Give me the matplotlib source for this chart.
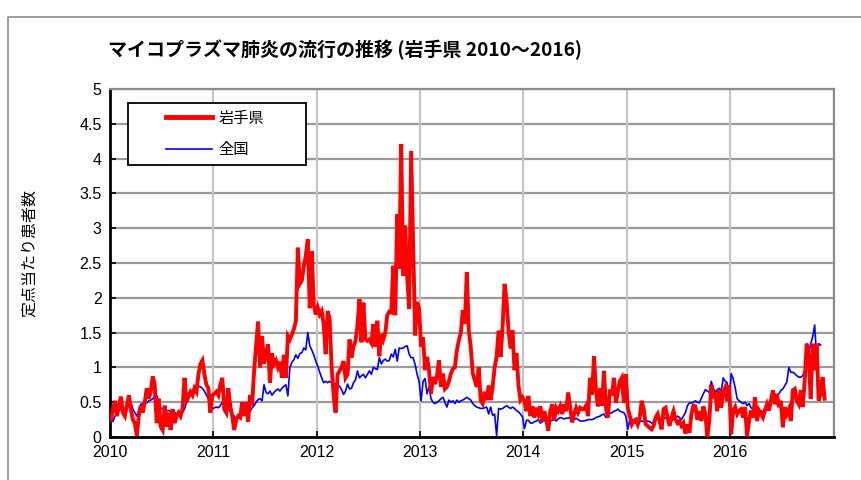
import matplotlib
matplotlib.use("Agg")
import matplotlib.pyplot as plt
import matplotlib.patches as patches
from matplotlib.lines import Line2D
import numpy as np

plt.rcParams['font.family'] = ['Noto Sans CJK JP', 'DejaVu Sans']

# weekly values per year (定点当たり患者数)
iwate = {
    2010: [0.25, 0.4, 0.52, 0.3, 0.45, 0.58, 0.35, 0.3, 0.45, 0.6, 0.4, 0.25, 0.2,
           0.02, 0.3, 0.45, 0.35, 0.5, 0.7, 0.55, 0.65, 0.87, 0.75, 0.2, 0.55, 0.15,
           0.1, 0.45, 0.15, 0.35, 0.1, 0.4, 0.2, 0.3, 0.35, 0.3, 0.4, 0.85, 0.5,
           0.6, 0.65, 0.6, 0.7, 0.65, 0.9, 1.05, 1.1, 0.9, 0.75, 0.7, 0.35, 0.6],
    2011: [0.62, 0.65, 0.6, 0.75, 0.85, 0.4, 0.35, 0.7, 0.45, 0.3, 0.1, 0.25, 0.3,
           0.28, 0.5, 0.3, 0.5, 0.22, 0.6, 0.45, 0.95, 1.3, 1.66, 1.0, 1.45, 1.05,
           1.2, 1.33, 0.78, 1.2, 1.05, 1.1, 1.0, 1.08, 0.85, 1.18, 0.85, 1.45, 1.4,
           1.47, 1.55, 1.66, 2.72, 2.2, 2.25, 2.45, 2.6, 2.84, 1.85, 2.67, 1.9, 1.76],
    2012: [1.86, 1.76, 1.81, 1.62, 1.19, 1.81, 1.7, 1.0, 0.6, 0.35, 0.9, 0.95, 1.0,
           1.09, 0.85, 0.9, 1.4, 1.14, 1.3, 1.38, 1.6, 1.98, 1.36, 1.93, 1.4, 1.38,
           1.4, 1.35, 1.62, 1.3, 1.67, 1.16, 1.48, 1.4, 1.5, 1.75, 1.8, 1.79, 2.46,
           1.75, 3.2, 2.42, 4.21, 2.32, 3.04, 2.3, 1.84, 4.11, 2.75, 1.46, 1.94, 1.84],
    2013: [1.3, 1.43, 0.96, 1.15, 0.96, 0.62, 0.86, 0.76, 0.88, 1.1, 0.72, 0.91, 0.69,
           0.72, 0.8, 0.91, 0.98, 1.0, 1.24, 1.39, 1.5, 1.82, 1.63, 2.37, 1.53, 1.29,
           0.91, 0.82, 0.72, 1.0, 0.53, 0.48, 0.65, 0.53, 0.74, 0.53, 0.72, 1.0, 1.15,
           1.53, 1.15, 1.58, 2.2, 1.96, 1.53, 1.27, 1.53, 0.96, 1.2, 0.74, 0.53, 0.57],
    2014: [0.52, 0.37, 0.59, 0.3, 0.44, 0.28, 0.42, 0.33, 0.44, 0.23, 0.37, 0.25, 0.09,
           0.37, 0.47, 0.25, 0.42, 0.37, 0.44, 0.33, 0.47, 0.37, 0.64, 0.42, 0.21, 0.33,
           0.42, 0.35, 0.42, 0.4, 0.4, 0.45, 0.3, 0.85, 0.61, 1.16, 0.66, 0.44, 0.7,
           0.45, 0.95, 0.42, 0.28, 0.68, 0.6, 0.85, 0.49, 0.65, 0.8, 0.85, 0.49, 0.9],
    2015: [0.42, 0.3, 0.18, 0.23, 0.25, 0.18, 0.28, 0.52, 0.4, 0.18, 0.16, 0.13, 0.11,
           0.16, 0.28, 0.33, 0.23, 0.11, 0.4, 0.42, 0.28, 0.16, 0.28, 0.37, 0.25, 0.2,
           0.23, 0.16, 0.2, 0.05, 0.18, 0.06, 0.33, 0.45, 0.44, 0.25, 0.37, 0.23, 0.44,
           0.33, 0.0, 0.23, 0.75, 0.56, 0.64, 0.37, 0.68, 0.42, 0.64, 0.71, 0.52, 0.74],
    2016: [0.04, 0.38, 0.43, 0.33, 0.38, 0.4, 0.28, 0.43, 0.01, 0.23, 0.38, 0.28, 0.57,
           0.23, 0.38, 0.33, 0.28, 0.38, 0.47, 0.38, 0.52, 0.67, 0.47, 0.62, 0.43, 0.52,
           0.14, 0.43, 0.33, 0.4, 0.23, 0.67, 0.69, 0.52, 0.47, 0.67, 0.43, 0.81, 1.34,
           1.15, 0.55, 1.34, 0.96, 1.34, 0.52, 0.62, 0.86, 0.55],
}

zenkoku = {
    2010: [0.33, 0.22, 0.3, 0.35, 0.38, 0.4, 0.42, 0.4, 0.42, 0.45, 0.5, 0.4, 0.35,
           0.3, 0.38, 0.47, 0.48, 0.5, 0.49, 0.52, 0.53, 0.55, 0.58, 0.6, 0.5, 0.42,
           0.4, 0.4, 0.38, 0.38, 0.37, 0.36, 0.35, 0.33, 0.34, 0.34, 0.36, 0.4, 0.5,
           0.55, 0.6, 0.65, 0.7, 0.68, 0.73, 0.72, 0.7, 0.66, 0.6, 0.55, 0.5, 0.4],
    2011: [0.42, 0.43, 0.42, 0.45, 0.5, 0.53, 0.4, 0.4, 0.37, 0.33, 0.3, 0.25, 0.3,
           0.32, 0.33, 0.35, 0.38, 0.4, 0.37, 0.42, 0.45, 0.5, 0.54, 0.55, 0.52, 0.75,
           0.64, 0.62, 0.66, 0.6, 0.64, 0.67, 0.69, 0.66, 0.7, 0.73, 0.75, 0.59, 1.0,
           1.07, 1.11, 1.18, 1.13, 1.2, 1.21, 1.28, 1.25, 1.5, 1.31, 1.25, 1.18, 1.09],
    2012: [1.02, 0.93, 0.85, 0.78, 0.8, 0.78, 0.8, 0.78, 0.77, 0.76, 0.74, 0.73, 0.68,
           0.61, 0.66, 0.76, 0.69, 0.7, 0.78, 0.82, 0.95, 0.85, 0.88, 0.9, 0.85, 0.9,
           0.95, 0.9, 1.0, 0.98, 0.97, 1.14, 1.05, 1.1, 1.12, 1.09, 1.1, 1.19, 1.15,
           1.26, 1.09, 1.28, 1.27, 1.28, 1.3, 1.31, 1.19, 1.14, 1.14, 1.04, 0.9, 0.8],
    2013: [0.52, 0.8, 0.84, 0.62, 0.72, 0.55, 0.5, 0.48, 0.5, 0.52, 0.55, 0.57, 0.5,
           0.43, 0.53, 0.5, 0.52, 0.48, 0.53, 0.5, 0.52, 0.53, 0.55, 0.57, 0.55, 0.53,
           0.48, 0.45, 0.43, 0.42, 0.41, 0.41, 0.42, 0.43, 0.33, 0.43, 0.31, 0.33, 0.02,
           0.41, 0.4, 0.41, 0.43, 0.45, 0.43, 0.41, 0.43, 0.41, 0.38, 0.36, 0.33, 0.29],
    2014: [0.12, 0.24, 0.24, 0.2, 0.2, 0.22, 0.23, 0.25, 0.2, 0.22, 0.25, 0.2, 0.18,
           0.23, 0.24, 0.25, 0.23, 0.26, 0.28, 0.27, 0.26, 0.27, 0.27, 0.28, 0.26, 0.25,
           0.27, 0.25, 0.23, 0.23, 0.23, 0.24, 0.25, 0.25, 0.25, 0.26, 0.28, 0.29, 0.3,
           0.32, 0.33, 0.28, 0.33, 0.34, 0.35, 0.37, 0.38, 0.4, 0.37, 0.36, 0.35, 0.3],
    2015: [0.11, 0.25, 0.22, 0.21, 0.2, 0.2, 0.22, 0.23, 0.22, 0.2, 0.23, 0.22, 0.2,
           0.22, 0.25, 0.3, 0.27, 0.25, 0.26, 0.28, 0.25, 0.24, 0.23, 0.26, 0.28, 0.3,
           0.28, 0.25, 0.3, 0.35, 0.45, 0.49, 0.49, 0.5, 0.52, 0.5, 0.49, 0.56, 0.62,
           0.68, 0.66, 0.64, 0.8, 0.7, 0.64, 0.68, 0.7, 0.66, 0.85, 0.8, 0.78, 0.45],
    2016: [0.91, 0.84, 0.71, 0.55, 0.52, 0.5, 0.48, 0.5, 0.45, 0.48, 0.42, 0.4, 0.38,
           0.35, 0.33, 0.38, 0.35, 0.43, 0.47, 0.45, 0.55, 0.57, 0.55, 0.6, 0.62, 0.67,
           0.69, 0.74, 0.79, 1.0, 0.93, 0.93, 0.91, 0.88, 0.86, 0.86, 0.88, 0.96, 1.34,
           1.2, 1.34, 1.44, 1.61, 1.13, 1.34, 1.32],
}

years = [2010, 2011, 2012, 2013, 2014, 2015, 2016]
ytick_vals = [0, 0.5, 1, 1.5, 2, 2.5, 3, 3.5, 4, 4.5, 5]
ytick_labels = ['0', '0.5', '1', '1.5', '2', '2.5', '3', '3.5', '4', '4.5', '5']
series_names = ['岩手県', '全国']


def to_series(d):
    xs, ys = [], []
    for yr in years:
        for i, v in enumerate(d[yr]):
            xs.append(yr + (i + 0.5) / 52)
            ys.append(v)
    return np.array(xs), np.array(ys)


x_iw, y_iw = to_series(iwate)
x_zk, y_zk = to_series(zenkoku)

fig = plt.figure(figsize=(8.62, 4.80), dpi=100)
ax = fig.add_axes([0.1276, 0.0896, 0.8394, 0.725])

# grid
for v in ytick_vals[1:]:
    ax.axhline(v, color='#9a9a9a', lw=1.6, zorder=1)
for yr in years[1:] + [2017]:
    ax.axvline(yr, color='#c4c4c4', lw=1.6, zorder=1)

ax.plot(x_zk, y_zk, color='#0000ff', lw=1.2, zorder=3)
ax.plot(x_iw, y_iw, color='#ff0000', lw=2.8, zorder=4, solid_joinstyle='miter')

ax.set_xlim(2010, 2017)
ax.set_ylim(0, 5)

tick_font = ['Liberation Sans Narrow', 'Liberation Sans', 'DejaVu Sans']
ax.set_yticks(ytick_vals)
ax.set_yticklabels(ytick_labels, family=tick_font, fontsize=11.5)
ax.set_xticks(years + [2017])
ax.set_xticklabels([str(y) for y in years] + [''], family=tick_font, fontsize=11.5)
ax.tick_params(axis='both', direction='in', length=4, width=1.2, color='black')
ax.tick_params(axis='y', pad=6)
ax.tick_params(axis='x', pad=6)

for s in ['left', 'bottom']:
    ax.spines[s].set_color('black')
    ax.spines[s].set_linewidth(2)
for s in ['top', 'right']:
    ax.spines[s].set_color('#8c8c8c')
    ax.spines[s].set_linewidth(1.6)

ax.set_ylabel('定点当たり患者数', fontsize=11.5)
ax.yaxis.set_label_coords(-0.099, 0.53)

# legend: frame drawn by hand, entries placed inside it
frame = patches.Rectangle((0.025, 0.7816), 0.246, 0.178, transform=ax.transAxes,
                          facecolor='white', edgecolor='black', lw=1.3, zorder=5)
ax.add_patch(frame)
handles = [Line2D([], [], color='#ff0000', lw=3.5),
           Line2D([], [], color='#0000ff', lw=1.2)]
leg = ax.legend(handles, series_names, loc='center left',
                bbox_to_anchor=(0.078, 0.871), borderaxespad=0, borderpad=0,
                handlelength=3.0, handletextpad=0.4, labelspacing=0.95,
                fontsize=11, frameon=False)
leg.set_zorder(6)

fig.text(108 / 862, 1 - 50 / 480, 'マイコプラズマ肺炎の流行の推移 (岩手県 2010～2016)',
         fontsize=13.7, fontweight='bold', ha='left', va='center')

# outer chart-area border (left and top edges visible)
fig.add_artist(Line2D([8 / 862, 8 / 862, 1.0], [0.0, 1 - 17 / 480, 1 - 17 / 480],
                      transform=fig.transFigure, color='#8c8c8c', lw=1.2))

fig.savefig('out.png', dpi=100)
